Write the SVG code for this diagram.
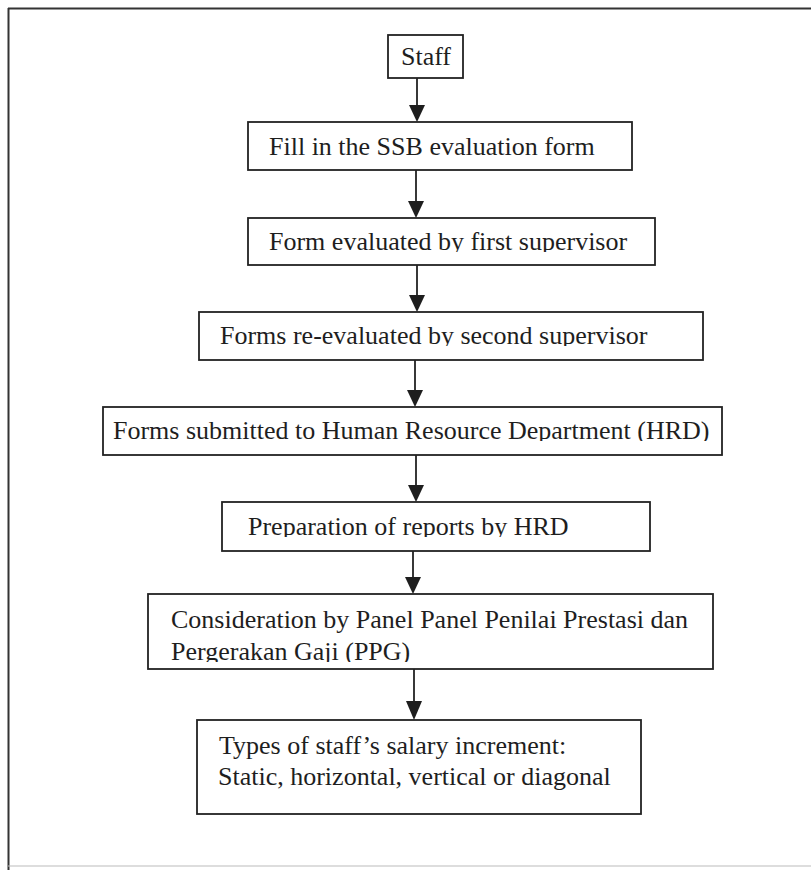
<svg xmlns="http://www.w3.org/2000/svg" width="811" height="870" viewBox="0 0 811 870">
<style>
.box{fill:#fff;stroke:#222;stroke-width:1.8}
.t{font-family:"Liberation Serif","Times New Roman",serif;font-size:26px;fill:#1e1e1e}
.c{stroke:#222;stroke-width:1.8;fill:none}
.ah{fill:#1e1e1e}
</style>
<defs>
<clipPath id="cl3"><rect x="248" y="218" width="407" height="34"/></clipPath>
<clipPath id="cl4"><rect x="199" y="312" width="504" height="34"/></clipPath>
<clipPath id="cl5"><rect x="103" y="407" width="619" height="34"/></clipPath>
<clipPath id="cl6"><rect x="222" y="502" width="428" height="35"/></clipPath>
<clipPath id="cl7"><rect x="148" y="594" width="565" height="68"/></clipPath>
</defs>
<rect width="811" height="870" fill="#fff"/>
<g id="frame">
<line x1="8" y1="8.5" x2="811" y2="8.5" stroke="#333" stroke-width="2"/>
<line x1="8.5" y1="8" x2="8.5" y2="870" stroke="#333" stroke-width="2"/>
<line x1="8" y1="866" x2="811" y2="866" stroke="#bbb" stroke-width="1"/>
</g>
<g id="connectors">
<line class="c" x1="417" y1="78" x2="417" y2="105"/>
<path class="ah" d="M409,105 L425,105 L417,122 Z"/>
<line class="c" x1="416" y1="170" x2="416" y2="201"/>
<path class="ah" d="M408,201 L424,201 L416,218 Z"/>
<line class="c" x1="417" y1="265" x2="417" y2="295"/>
<path class="ah" d="M409,295 L425,295 L417,312 Z"/>
<line class="c" x1="415" y1="360" x2="415" y2="390"/>
<path class="ah" d="M407,390 L423,390 L415,407 Z"/>
<line class="c" x1="416" y1="455" x2="416" y2="485"/>
<path class="ah" d="M408,485 L424,485 L416,502 Z"/>
<line class="c" x1="413" y1="551" x2="413" y2="577"/>
<path class="ah" d="M405,577 L421,577 L413,594 Z"/>
<line class="c" x1="414" y1="669" x2="414" y2="701"/>
<path class="ah" d="M406,701 L422,701 L414,720 Z"/>
</g>
<g id="n1">
<rect class="box" x="388" y="35" width="75" height="43"/>
<text class="t" x="426" y="65" text-anchor="middle">Staff</text>
</g>
<g id="n2">
<rect class="box" x="248" y="122" width="384" height="48"/>
<text class="t" x="269" y="155">Fill in the SSB evaluation form</text>
</g>
<g id="n3">
<rect class="box" x="248" y="218" width="407" height="47"/>
<text class="t" x="269" y="250" clip-path="url(#cl3)">Form evaluated by first supervisor</text>
</g>
<g id="n4">
<rect class="box" x="199" y="312" width="504" height="48"/>
<text class="t" x="220" y="344" clip-path="url(#cl4)">Forms re-evaluated by second supervisor</text>
</g>
<g id="n5">
<rect class="box" x="103" y="407" width="619" height="48"/>
<text class="t" x="113" y="439" clip-path="url(#cl5)">Forms submitted to Human Resource Department (HRD)</text>
</g>
<g id="n6">
<rect class="box" x="222" y="502" width="428" height="49"/>
<text class="t" x="248" y="535" clip-path="url(#cl6)">Preparation of reports by HRD</text>
</g>
<g id="n7">
<rect class="box" x="148" y="594" width="565" height="75"/>
<text class="t" clip-path="url(#cl7)"><tspan x="171" y="628">Consideration by Panel Panel Penilai Prestasi dan</tspan><tspan x="171" y="660">Pergerakan Gaji (PPG)</tspan></text>
</g>
<g id="n8">
<rect class="box" x="197" y="720" width="444" height="94"/>
<text class="t"><tspan x="219" y="754">Types of staff’s salary increment:</tspan><tspan x="218" y="785">Static, horizontal, vertical or diagonal</tspan></text>
</g>
</svg>
